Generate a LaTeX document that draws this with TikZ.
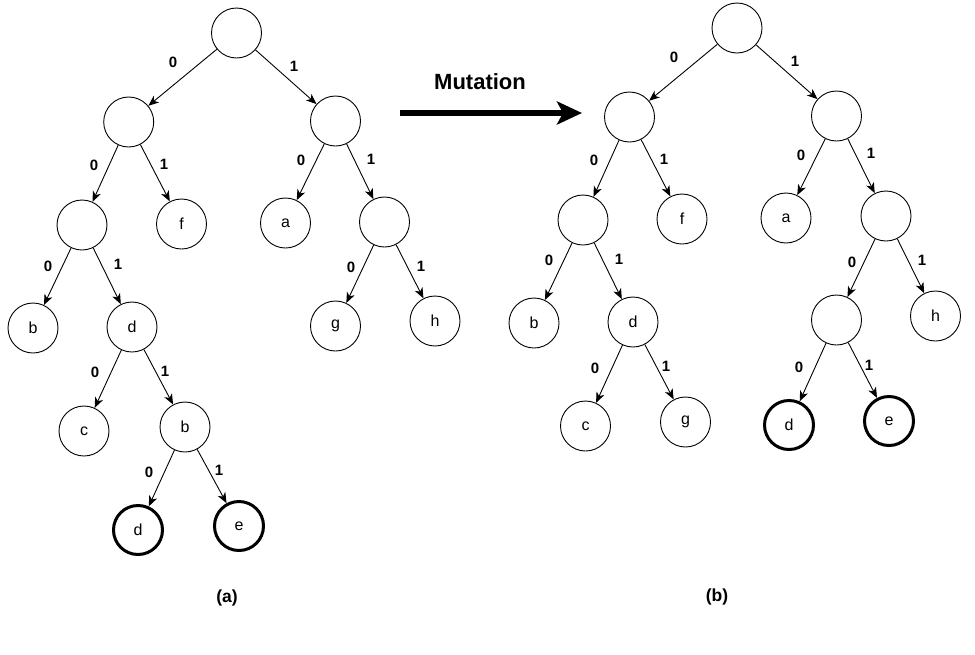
\documentclass[tikz,border=0pt]{standalone}
\usepackage{fontspec}
\setmainfont{Liberation Sans}
\usetikzlibrary{arrows.meta}
\begin{document}
\begin{tikzpicture}[x=1pt,y=-1pt,
  tnode/.style={circle,draw,line width=0.9pt,minimum size=50pt,inner sep=0pt,
    font=\fontsize{16}{16}\selectfont},
  leafmark/.style={tnode,line width=3pt,minimum size=49pt},
  edge/.style={line width=0.9pt,-{Stealth[length=10.5pt,width=8.5pt,inset=3pt]}},
  elab/.style={font=\bfseries\fontsize{15}{15}\selectfont,inner sep=0pt},
  caption/.style={font=\bfseries\fontsize{17.5}{17.5}\selectfont,inner sep=0pt}]
\useasboundingbox (0,0) rectangle (975,654);

% ---------- tree (a) ----------
\node[tnode] (aR)   at (236.5,33) {};
\node[tnode] (aL)   at (128.7,122) {};
\node[tnode] (aRt)  at (335.5,121) {};
\node[tnode] (aLL)  at (82,225) {};
\node[tnode] (aF)   at (181.5,224) {f};
\node[tnode] (aA)   at (285.5,223) {a};
\node[tnode] (aRR)  at (384.5,222) {};
\node[tnode] (aB1)  at (33,328) {b};
\node[tnode] (aD1)  at (132,327) {d};
\node[tnode] (aG)   at (335.5,326) {g};
\node[tnode] (aH)   at (435,321) {h};
\node[tnode] (aC)   at (84,431) {c};
\node[tnode] (aB2)  at (185,427) {b};
\node[leafmark] (aD2) at (138,530) {d};
\node[leafmark] (aE)  at (239,526) {e};

\draw[edge] (aR) -- (aL);
\draw[edge] (aR) -- (aRt);
\draw[edge] (aL) -- (aLL);
\draw[edge] (aL) -- (aF);
\draw[edge] (aRt) -- (aA);
\draw[edge] (aRt) -- (aRR);
\draw[edge] (aLL) -- (aB1);
\draw[edge] (aLL) -- (aD1);
\draw[edge] (aRR) -- (aG);
\draw[edge] (aRR) -- (aH);
\draw[edge] (aD1) -- (aC);
\draw[edge] (aD1) -- (aB2);
\draw[edge] (aB2) -- (aD2);
\draw[edge] (aB2) -- (aE);

\node[elab] (la1)  at (173,62)  {0};
\node[elab] (la2)  at (294,66)  {1};
\node[elab] (la3)  at (94,165)  {0};
\node[elab] (la4)  at (164,164) {1};
\node[elab] (la5)  at (301,160) {0};
\node[elab] (la6)  at (371,159) {1};
\node[elab] (la7)  at (48,266)  {0};
\node[elab] (la8)  at (118,264) {1};
\node[elab] (la9)  at (351,267) {0};
\node[elab] (la10) at (421,266) {1};
\node[elab] (la11) at (95,372)  {0};
\node[elab] (la12) at (165,371) {1};
\node[elab] (la13) at (149,472) {0};
\node[elab] (la14) at (219,470) {1};

\node[caption] (capA) at (227,598) {(a)};

% ---------- mutation arrow ----------
\coordinate (mFrom) at (400,113);
\coordinate (mTo)   at (582,113);
\draw[line width=6pt,-{Stealth[length=25pt,width=23pt,inset=6pt]}] (mFrom) -- (mTo);
\node[font=\bfseries\fontsize{22}{22}\selectfont,inner sep=0pt] (mLab) at (480,82) {Mutation};

% ---------- tree (b) ----------
\node[tnode] (bR)   at (737,28) {};
\node[tnode] (bL)   at (629.5,117) {};
\node[tnode] (bRt)  at (836.5,116) {};
\node[tnode] (bLL)  at (583,220) {};
\node[tnode] (bF)   at (682,219) {f};
\node[tnode] (bA)   at (786,218) {a};
\node[tnode] (bRR)  at (886,216) {};
\node[tnode] (bB1)  at (534,323) {b};
\node[tnode] (bD1)  at (633,322) {d};
\node[tnode] (bN)   at (836.5,320) {};
\node[tnode] (bH)   at (935.5,316) {h};
\node[tnode] (bC)   at (585.5,426) {c};
\node[tnode] (bG)   at (685.5,422) {g};
\node[leafmark] (bD2) at (789,425) {d};
\node[leafmark] (bE)  at (889,421) {e};

\draw[edge] (bR) -- (bL);
\draw[edge] (bR) -- (bRt);
\draw[edge] (bL) -- (bLL);
\draw[edge] (bL) -- (bF);
\draw[edge] (bRt) -- (bA);
\draw[edge] (bRt) -- (bRR);
\draw[edge] (bLL) -- (bB1);
\draw[edge] (bLL) -- (bD1);
\draw[edge] (bRR) -- (bN);
\draw[edge] (bRR) -- (bH);
\draw[edge] (bD1) -- (bC);
\draw[edge] (bD1) -- (bG);
\draw[edge] (bN) -- (bD2);
\draw[edge] (bN) -- (bE);

\node[elab] (lb1)  at (674,57)  {0};
\node[elab] (lb2)  at (795,61)  {1};
\node[elab] (lb3)  at (594,160) {0};
\node[elab] (lb4)  at (664,159) {1};
\node[elab] (lb5)  at (801,155) {0};
\node[elab] (lb6)  at (871,153) {1};
\node[elab] (lb7)  at (549,260) {0};
\node[elab] (lb8)  at (619,259) {1};
\node[elab] (lb9)  at (852,262) {0};
\node[elab] (lb10) at (922,260) {1};
\node[elab] (lb11) at (595,368) {0};
\node[elab] (lb12) at (666,366) {1};
\node[elab] (lb13) at (799,367) {0};
\node[elab] (lb14) at (869,365) {1};

\node[caption] (capB) at (717,597) {(b)};
\end{tikzpicture}
\end{document}
